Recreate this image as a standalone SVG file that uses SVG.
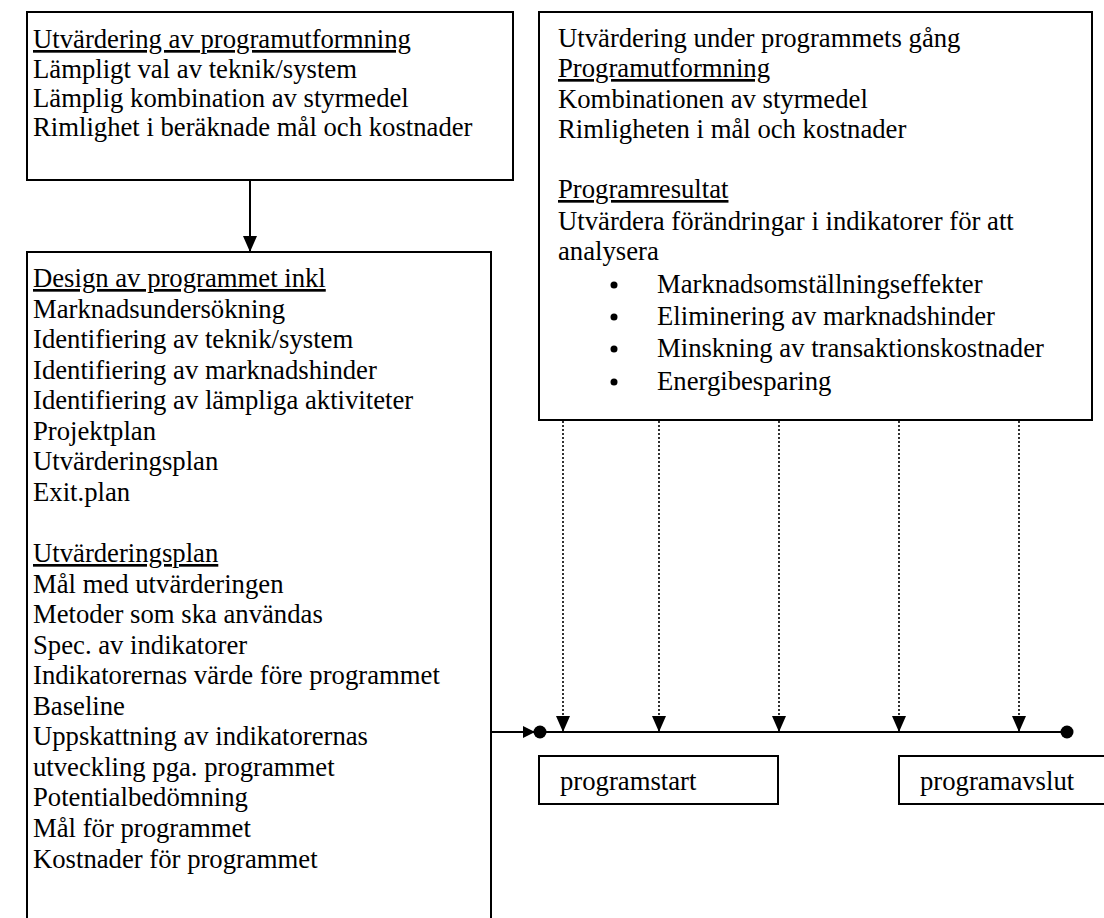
<svg xmlns="http://www.w3.org/2000/svg" width="1104" height="918" viewBox="0 0 1104 918">
<style>
.box{fill:#fff;stroke:#000;stroke-width:2}
.t{font-family:"Liberation Serif","Times New Roman",serif;font-size:26.7px;fill:#000}
.u{text-decoration:underline}
.ln{stroke:#000;stroke-width:2;fill:none}
.dot{stroke:#000;stroke-width:1.6;stroke-dasharray:2 2;fill:none}
</style>
<defs>
<marker id="ah" markerWidth="16" markerHeight="14" refX="16" refY="7" orient="auto" markerUnits="userSpaceOnUse" viewBox="0 0 16 14">
<path d="M0,0 L16,7 L0,14 Z" fill="#000"/>
</marker>
</defs>
<rect width="1104" height="918" fill="#fff"/>
<g id="box1">
<rect class="box" x="27" y="12" width="486" height="168"/>
<text class="t u" x="33" y="48">Utvärdering av programutformning</text>
<text class="t" x="33" y="77.5">Lämpligt val av teknik/system</text>
<text class="t" x="33" y="107">Lämplig kombination av styrmedel</text>
<text class="t" x="33" y="136">Rimlighet i beräknade mål och kostnader</text>
</g>
<g id="box2">
<rect class="box" x="27" y="252" width="464" height="690"/>
<text class="t u" x="33" y="287">Design av programmet inkl</text>
<text class="t" x="33" y="317.6">Marknadsundersökning</text>
<text class="t" x="33" y="348.1">Identifiering av teknik/system</text>
<text class="t" x="33" y="378.7">Identifiering av marknadshinder</text>
<text class="t" x="33" y="409.2">Identifiering av lämpliga aktiviteter</text>
<text class="t" x="33" y="439.8">Projektplan</text>
<text class="t" x="33" y="470.3">Utvärderingsplan</text>
<text class="t" x="33" y="500.9">Exit.plan</text>
<text class="t u" x="33" y="562">Utvärderingsplan</text>
<text class="t" x="33" y="592.5">Mål med utvärderingen</text>
<text class="t" x="33" y="623">Metoder som ska användas</text>
<text class="t" x="33" y="653.6">Spec. av indikatorer</text>
<text class="t" x="33" y="684">Indikatorernas värde före programmet</text>
<text class="t" x="33" y="714.7">Baseline</text>
<text class="t" x="33" y="745">Uppskattning av indikatorernas</text>
<text class="t" x="33" y="775.8">utveckling pga. programmet</text>
<text class="t" x="33" y="806.4">Potentialbedömning</text>
<text class="t" x="33" y="837">Mål för programmet</text>
<text class="t" x="33" y="867.5">Kostnader för programmet</text>
</g>
<g id="box3">
<rect class="box" x="539" y="12" width="553" height="408"/>
<text class="t" x="558" y="47">Utvärdering under programmets gång</text>
<text class="t u" x="558" y="77">Programutformning</text>
<text class="t" x="558" y="108">Kombinationen av styrmedel</text>
<text class="t" x="558" y="138">Rimligheten i mål och kostnader</text>
<text class="t u" x="558" y="198">Programresultat</text>
<text class="t" x="558" y="230">Utvärdera förändringar i indikatorer för att</text>
<text class="t" x="558" y="260">analysera</text>
<circle cx="614" cy="285" r="3.5" fill="#000"/>
<text class="t" x="657" y="293">Marknadsomställningseffekter</text>
<circle cx="614" cy="317" r="3.5" fill="#000"/>
<text class="t" x="657" y="325">Eliminering av marknadshinder</text>
<circle cx="614" cy="349" r="3.5" fill="#000"/>
<text class="t" x="657" y="357">Minskning av transaktionskostnader</text>
<circle cx="614" cy="382" r="3.5" fill="#000"/>
<text class="t" x="657" y="390">Energibesparing</text>
</g>
<g id="start">
<rect class="box" x="539" y="756" width="239" height="48"/>
<text class="t" x="560" y="790">programstart</text>
</g>
<g id="end">
<rect class="box" x="899" y="756" width="230" height="48"/>
<text class="t" x="920" y="790">programavslut</text>
</g>
<g id="connectors">
<line class="ln" x1="250" y1="180" x2="250" y2="252" marker-end="url(#ah)"/>
<line class="ln" x1="491" y1="732" x2="1067" y2="732"/>
<path d="M523,726 L535,732 L523,738 Z" fill="#000"/>
<circle cx="540" cy="732" r="6.5" fill="#000"/>
<circle cx="1067" cy="732" r="6.5" fill="#000"/>
<line class="dot" x1="563" y1="421" x2="563" y2="732" marker-end="url(#ah)"/>
<line class="dot" x1="659" y1="421" x2="659" y2="732" marker-end="url(#ah)"/>
<line class="dot" x1="779" y1="421" x2="779" y2="732" marker-end="url(#ah)"/>
<line class="dot" x1="899" y1="421" x2="899" y2="732" marker-end="url(#ah)"/>
<line class="dot" x1="1019" y1="421" x2="1019" y2="732" marker-end="url(#ah)"/>
</g>
</svg>
